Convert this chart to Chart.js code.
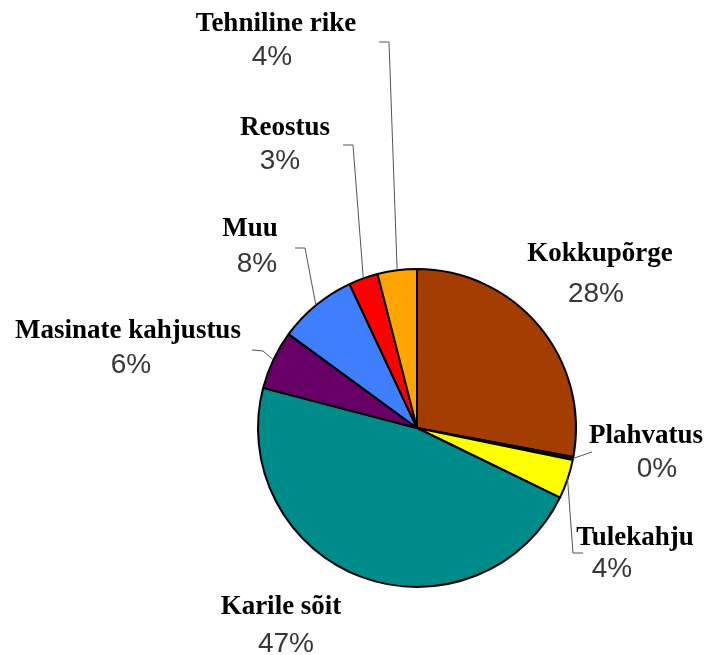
<!DOCTYPE html>
<html>
<head>
<meta charset="utf-8">
<script src="https://cdn.jsdelivr.net/npm/chart.js@4.4.0/dist/chart.umd.min.js"></script>
<style>
	html, body { margin: 0; padding: 0; background: #fff; }
	#wrap { width: 704px; height: 655px; }
</style>
</head>
<body>
<div id="wrap"><canvas id="pieChart" width="704" height="655"></canvas></div>
<script>
const categories = ['Kokkupõrge', 'Plahvatus', 'Tulekahju', 'Karile sõit', 'Masinate kahjustus', 'Muu', 'Reostus', 'Tehniline rike'];
const shares = [28, 0.3, 4, 47, 6, 8, 3, 4];
const sliceColors = ['#A33D00', '#222222', '#FFFF00', '#008B8B', '#660066', '#3F7FFF', '#FF0000', '#FFA500'];

// label placement: name baseline, percent baseline, leader elbows (from slice edge)
const labelLayout = [
	{ nx: 600, ny: 261, px: 596, py: 302, leader: null },
	{ nx: 646, ny: 443, px: 657, py: 477, leader: [[592, 452]] },
	{ nx: 635, ny: 545, px: 612, py: 577, leader: [[573, 553], [583, 553]] },
	{ nx: 281, ny: 614, px: 286, py: 652, leader: null },
	{ nx: 128, ny: 338, px: 131, py: 373, leader: [[263, 351], [252, 350]] },
	{ nx: 250, ny: 236, px: 257, py: 272, leader: [[305, 248], [295, 248]] },
	{ nx: 285, ny: 135, px: 280, py: 169, leader: [[353, 145], [343, 145]] },
	{ nx: 276, ny: 31, px: 272, py: 65, leader: [[389, 42], [379, 42]] }
];

const sliceLabels = {
	id: 'sliceLabels',
	afterDatasetsDraw(chart) {
		const c = chart.ctx;
		const arcs = chart.getDatasetMeta(0).data;
		const total = shares.reduce((a, b) => a + b, 0);
		c.save();
		arcs.forEach((arc, i) => {
			const lay = labelLayout[i];
			const p = arc.getProps(['x', 'y', 'startAngle', 'endAngle', 'outerRadius'], true);
			const mid = (p.startAngle + p.endAngle) / 2;
			if (lay.leader) {
				c.beginPath();
				c.strokeStyle = '#555';
				c.lineWidth = 1;
				c.moveTo(p.x + Math.cos(mid) * p.outerRadius, p.y + Math.sin(mid) * p.outerRadius);
				lay.leader.forEach(pt => c.lineTo(pt[0], pt[1]));
				c.stroke();
			}
			c.textAlign = 'center';
			c.textBaseline = 'alphabetic';
			c.fillStyle = '#000';
			c.font = 'bold 27px "Liberation Serif", "DejaVu Serif", serif';
			c.fillText(categories[i], lay.nx, lay.ny);
			c.fillStyle = '#383838';
			c.font = '28px "Liberation Sans", Arial, sans-serif';
			c.fillText(Math.round(shares[i] / total * 100) + '%', lay.px, lay.py);
		});
		c.restore();
	}
};

new Chart(document.getElementById('pieChart'), {
	type: 'pie',
	data: {
		labels: categories,
		datasets: [{
			data: shares,
			backgroundColor: sliceColors,
			borderColor: '#000',
			borderWidth: 2
		}]
	},
	options: {
		responsive: false,
		animation: false,
		layout: { padding: { left: 257, right: 127, top: 268, bottom: 67 } },
		plugins: { legend: { display: false }, tooltip: { enabled: false } }
	},
	plugins: [sliceLabels]
});
</script>
</body>
</html>
